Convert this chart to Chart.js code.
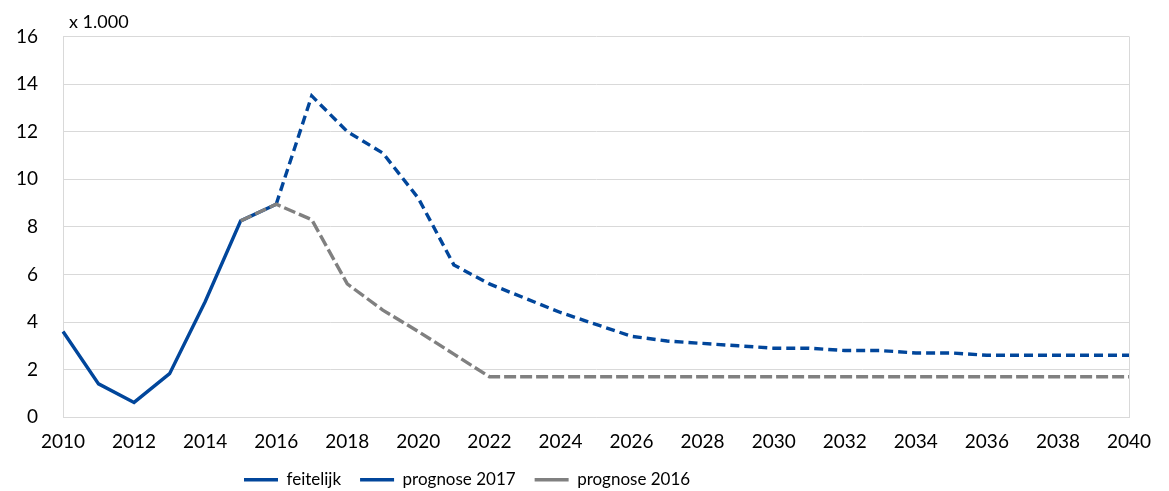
<!DOCTYPE html>
<html>
<head>
<meta charset="utf-8">
<script src="https://cdn.jsdelivr.net/npm/chart.js@4"></script>
<style>
  html, body { margin: 0; padding: 0; background: #fff; }
  #wrap { width: 1169px; height: 491px; }
</style>
</head>
<body>
<div id="wrap"><canvas id="chart"></canvas></div>
<script>
const years = ['2010','2011','2012','2013','2014','2015','2016','2017','2018','2019','2020',
  '2021','2022','2023','2024','2025','2026','2027','2028','2029','2030',
  '2031','2032','2033','2034','2035','2036','2037','2038','2039','2040'];

const feitelijk = [3.6, 1.4, 0.62, 1.83, 4.85, 8.25, 8.95];

const prognose2017 = [null, null, null, null, null, null,
  8.95, 13.5, 12.0, 11.1, 9.2, 6.4, 5.6, 5.0, 4.4, 3.9, 3.4, 3.2, 3.1, 3.0,
  2.9, 2.9, 2.8, 2.8, 2.7, 2.7, 2.6, 2.6, 2.6, 2.6, 2.6];

const prognose2016 = [null, null, null, null, null,
  8.25, 8.95, 8.3, 5.6, 4.5, 3.6, 2.65, 1.7, 1.7, 1.7, 1.7, 1.7, 1.7, 1.7, 1.7,
  1.7, 1.7, 1.7, 1.7, 1.7, 1.7, 1.7, 1.7, 1.7, 1.7, 1.7];

const yTicks = [0, 2, 4, 6, 8, 10, 12, 14, 16];

const blue = '#01469b';
const grey = '#808080';
const gridColor = '#d9d9d9';
const fontFamily = 'Lato, "Open Sans", sans-serif';

// "x 1.000" above the y axis, and legend placement
const extras = {
  id: 'extras',
  afterLayout(chart) {
    const lg = chart.legend;
    const h = lg.bottom - lg.top;
    lg.left = 225;
    lg.top = chart.chartArea.bottom + 35;
    lg.bottom = lg.top + h;
  },
  afterDraw(chart) {
    const ctx = chart.ctx;
    ctx.save();
    ctx.font = '18px ' + fontFamily;
    ctx.fillStyle = '#000';
    ctx.textBaseline = 'middle';
    ctx.fillText('x 1.000', chart.chartArea.left + 6, chart.chartArea.top - 14);
    ctx.restore();
  }
};

new Chart(document.getElementById('chart'), {
  type: 'line',
  data: {
    labels: years,
    datasets: [{
      label: 'feitelijk',
      data: feitelijk,
      borderColor: blue,
      backgroundColor: blue,
      borderWidth: 3.4,
      pointRadius: 0,
      order: 2
    }, {
      label: 'prognose 2017',
      data: prognose2017,
      borderColor: blue,
      backgroundColor: blue,
      borderWidth: 3.4,
      borderDash: [9, 5],
      pointRadius: 0,
      order: 1
    }, {
      label: 'prognose 2016',
      data: prognose2016,
      borderColor: grey,
      backgroundColor: grey,
      borderWidth: 3.4,
      borderDash: [12, 4],
      pointRadius: 0,
      order: 0
    }]
  },
  options: {
    responsive: true,
    maintainAspectRatio: false,
    animation: false,
    layout: { padding: { left: 0, right: 40, top: 32, bottom: -13 } },
    plugins: {
      tooltip: { enabled: false },
      legend: {
        position: 'bottom',
        align: 'start',
        maxHeight: 38,
        labels: {
          usePointStyle: true,
          pointStyle: 'line',
          pointStyleWidth: 34,
          padding: 19,
          color: '#000',
          font: { family: fontFamily, size: 17 },
          sort: (a, b) => a.datasetIndex - b.datasetIndex
        }
      }
    },
    scales: {
      x: {
        offset: false,
        grid: {
          drawTicks: false,
          color: ctx => ctx.index === years.length - 1 ? gridColor : 'rgba(0,0,0,0)'
        },
        border: { color: gridColor },
        ticks: {
          autoSkip: false,
          maxRotation: 0,
          padding: 13,
          color: '#000',
          font: { family: fontFamily, size: 19 },
          callback: function (v, i) { return i % 2 === 0 ? years[i] : ''; }
        }
      },
      y: {
        min: 0,
        max: 16,
        afterBuildTicks: s => { s.ticks = yTicks.map(v => ({ value: v })); },
        grid: { drawTicks: false, color: gridColor },
        border: { color: gridColor },
        ticks: {
          padding: 25,
          color: '#000',
          font: { family: fontFamily, size: 19 }
        },
        afterFit: s => { s.width = 63; }
      }
    }
  },
  plugins: [extras]
});
</script>
</body>
</html>
